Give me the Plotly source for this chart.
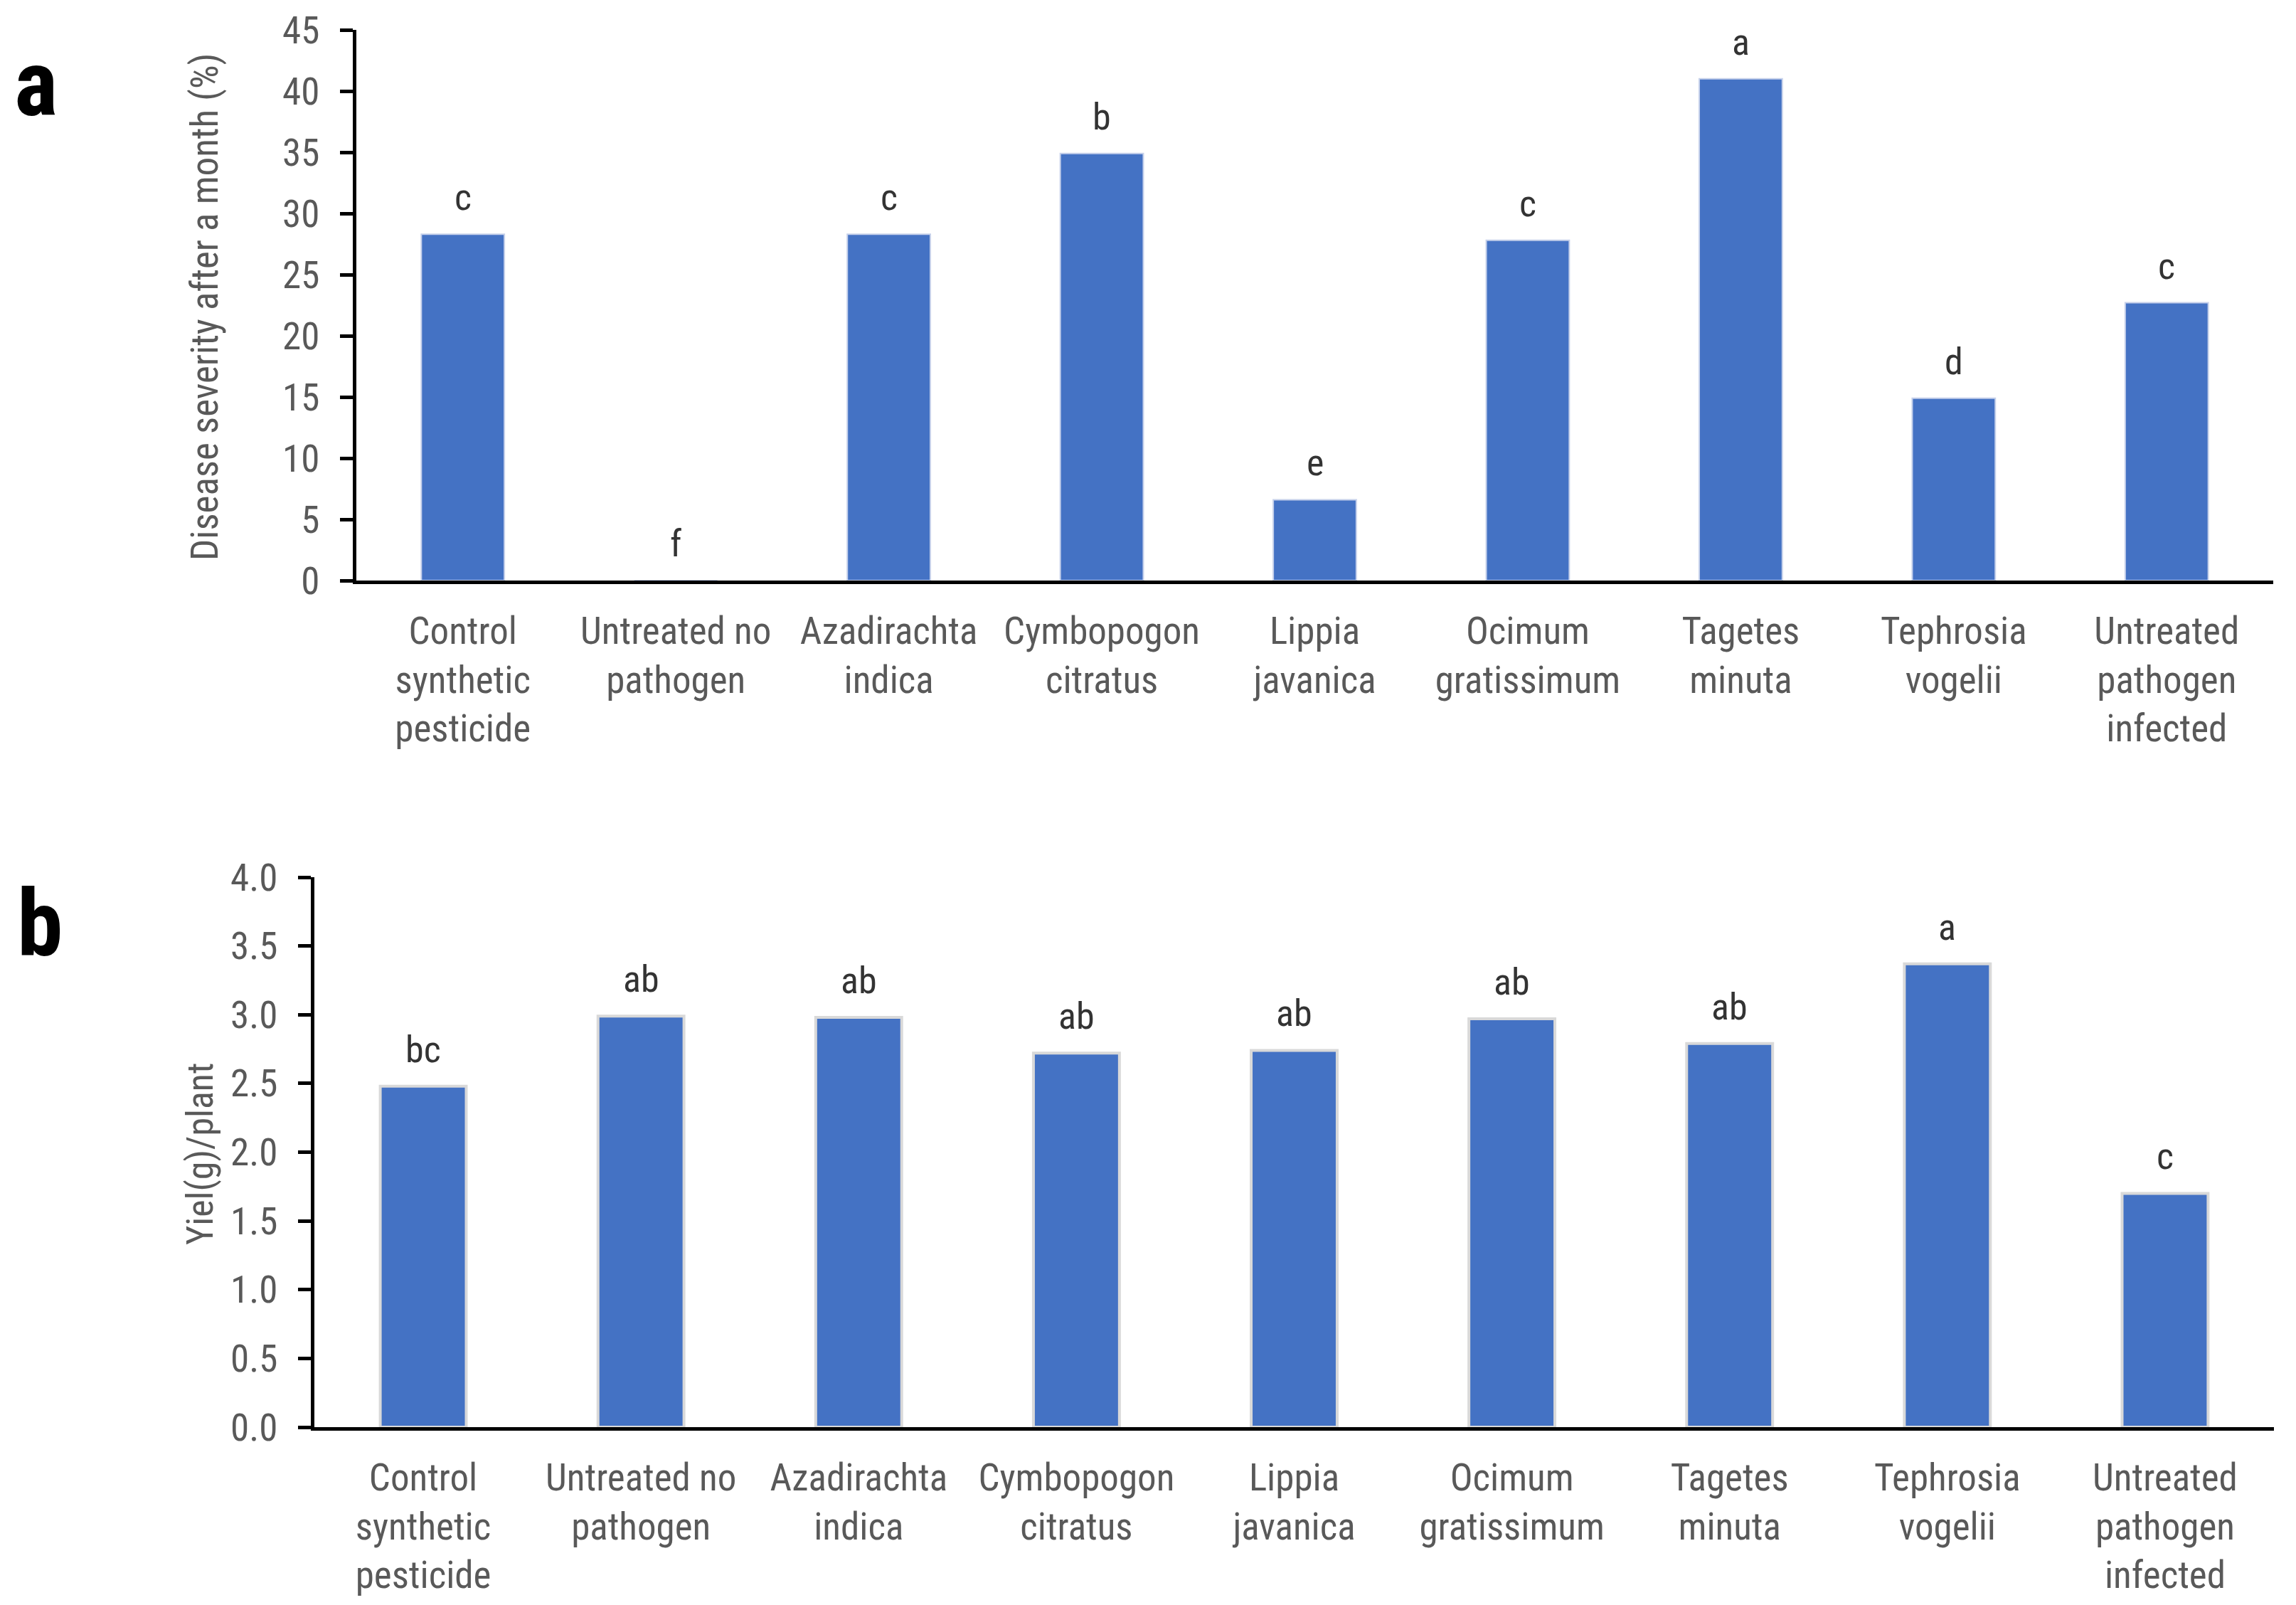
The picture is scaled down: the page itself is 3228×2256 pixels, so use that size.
import plotly.graph_objects as go

# ---- data ----
categories = [
    "Control<br>synthetic<br>pesticide",
    "Untreated no<br>pathogen",
    "Azadirachta<br>indica",
    "Cymbopogon<br>citratus",
    "Lippia<br>javanica",
    "Ocimum<br>gratissimum",
    "Tagetes<br>minuta",
    "Tephrosia<br>vogelii",
    "Untreated<br>pathogen<br>infected",
]
severity = [28.3, 0.0, 28.3, 34.9, 6.6, 27.8, 41.0, 14.9, 22.7]
severity_letters = ["c", "f", "c", "b", "e", "c", "a", "d", "c"]
yield_g = [2.48, 2.99, 2.98, 2.72, 2.74, 2.97, 2.79, 3.37, 1.70]
yield_letters = ["bc", "ab", "ab", "ab", "ab", "ab", "ab", "a", "c"]
severity_ticks = [0, 5, 10, 15, 20, 25, 30, 35, 40, 45]
yield_ticks = [0.0, 0.5, 1.0, 1.5, 2.0, 2.5, 3.0, 3.5, 4.0]

W, H = 3228, 2256
OFF = 8  # page body margin compensation
FAM = ("Liberation Sans Narrow, Arial Narrow, Roboto Condensed, "
       "Noto Sans ExtraCondensed, Noto Sans Condensed, Liberation Sans, sans-serif")
GRAY = "#595959"
DARK = "#333333"
BLUE = "#4472C4"


def fx(p):
    return (p - OFF) / W


def fy(p):
    return 1 - (p - OFF) / H


fig = go.Figure()
fig.add_trace(go.Bar(
    x=categories, y=severity, width=0.39,
    marker=dict(color=BLUE, line=dict(color="#C5D0EA", width=2)),
    xaxis="x", yaxis="y", hoverinfo="skip",
))
fig.add_trace(go.Bar(
    x=categories, y=yield_g, width=0.395,
    marker=dict(color=BLUE, line=dict(color="#D9D9D9", width=4)),
    xaxis="x2", yaxis="y2", hoverinfo="skip",
))

common_x = dict(
    showline=True, linecolor="black", linewidth=5, ticks="",
    showgrid=False, zeroline=False, tickfont=dict(family=FAM, size=53, color=GRAY),
    ticklabelstandoff=20, tickangle=0, fixedrange=True, automargin=False,
)
common_y = dict(
    showline=True, linecolor="black", linewidth=5, ticks="outside",
    ticklen=18, tickwidth=5, tickcolor="black", showgrid=False, zeroline=False,
    tickfont=dict(family=FAM, size=53, color=GRAY), ticklabelstandoff=18,
    fixedrange=True, automargin=False,
)

annotations = []
for c, v, t in zip(categories, severity, severity_letters):
    annotations.append(dict(x=c, y=v, xref="x", yref="y", text=t, showarrow=False,
                            yanchor="bottom", yshift=19,
                            font=dict(family=FAM, size=52, color=DARK)))
for c, v, t in zip(categories, yield_g, yield_letters):
    annotations.append(dict(x=c, y=v, xref="x2", yref="y2", text=t, showarrow=False,
                            yanchor="bottom", yshift=19,
                            font=dict(family=FAM, size=52, color=DARK)))

annotations += [
    dict(x=fx(288), y=fy(432), xref="paper", yref="paper", showarrow=False,
         text="Disease severity after a month (%)", textangle=-90,
         xanchor="center", yanchor="middle",
         font=dict(family=FAM, size=53, color=GRAY)),
    dict(x=fx(281), y=fy(1622), xref="paper", yref="paper", showarrow=False,
         text="Yiel(g)/plant", textangle=-90, xanchor="center", yanchor="middle",
         font=dict(family=FAM, size=52, color=GRAY)),
    dict(x=fx(50), y=fy(118), xref="paper", yref="paper", showarrow=False,
         text="<b>a</b>", xanchor="center", yanchor="middle",
         font=dict(family=FAM, size=130, color="black")),
    dict(x=fx(56), y=fy(1298), xref="paper", yref="paper", showarrow=False,
         text="<b>b</b>", xanchor="center", yanchor="middle",
         font=dict(family=FAM, size=130, color="black")),
]

fig.update_layout(
    width=W, height=H,
    margin=dict(l=0, r=0, t=0, b=0, autoexpand=False),
    paper_bgcolor="white", plot_bgcolor="white",
    showlegend=False,
    xaxis=dict(domain=[fx(501), fx(3196)], anchor="y", **common_x),
    yaxis=dict(domain=[fy(816), fy(42)], anchor="x", range=[0, 45],
               tickvals=severity_ticks, **common_y),
    xaxis2=dict(domain=[fx(442), fx(3197)], anchor="y2", **common_x),
    yaxis2=dict(domain=[fy(2006), fy(1233)], anchor="x2", range=[0, 4],
                tickvals=yield_ticks, tickformat=".1f", **common_y),
    annotations=annotations,
)

fig.write_html("out.html")
